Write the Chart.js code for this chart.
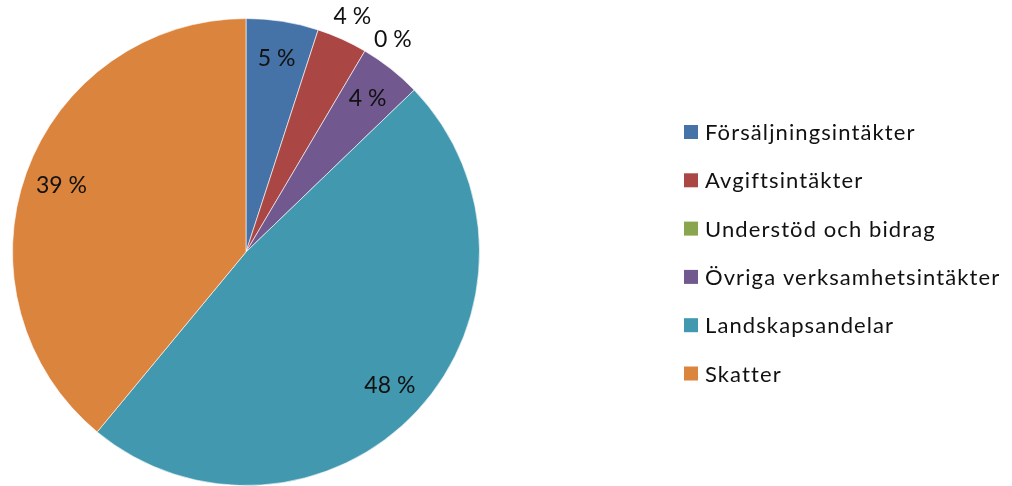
<!DOCTYPE html>
<html>
<head>
<meta charset="utf-8">
<script src="https://cdn.jsdelivr.net/npm/chart.js@4"></script>
<style>
html,body{margin:0;padding:0;background:#fff;}
#wrap{width:1012px;height:486px;position:relative;}
</style>
</head>
<body>
<div id="wrap"><canvas id="c" width="1012" height="486"></canvas></div>
<script>
const categories = ['Försäljningsintäkter','Avgiftsintäkter','Understöd och bidrag','Övriga verksamhetsintäkter','Landskapsandelar','Skatter'];
const shares = [5.0, 3.5, 0, 4.3, 48.2, 39.0];
const colors = ['#4572A7','#AA4643','#89A54E','#71588F','#4198AF','#DB843D'];
const labelOutside = [false, true, true, false, false, false];
const FONT = 'Lato, "Open Sans", sans-serif';

const labelPlugin = {
  id: 'sliceLabels',
  afterDatasetsDraw(chart) {
    const ctx = chart.ctx;
    const meta = chart.getDatasetMeta(0);
    ctx.save();
    ctx.font = '23px ' + FONT;
    ctx.fillStyle = '#111';
    ctx.textAlign = 'center';
    ctx.textBaseline = 'middle';
    meta.data.forEach((arc, i) => {
      const p = arc.getProps(['x','y','startAngle','endAngle','outerRadius'], true);
      let mid = (p.startAngle + p.endAngle) / 2;
      let r;
      if (labelOutside[i]) {
        r = p.outerRadius + 25;
        if (shares[i] === 0) mid += 0.07;
      } else {
        r = p.outerRadius * 0.84;
      }
      const x = p.x + Math.cos(mid) * r;
      const y = p.y + Math.sin(mid) * r;
      ctx.fillText(Math.round(shares[i]) + ' %', x, y);
    });
    ctx.restore();
  }
};

const legendPlugin = {
  id: 'sideLegend',
  afterDraw(chart) {
    const ctx = chart.ctx;
    ctx.save();
    ctx.font = '22px ' + FONT;
    if ('letterSpacing' in ctx) ctx.letterSpacing = '1.1px';
    ctx.textBaseline = 'middle';
    ctx.textAlign = 'left';
    const x0 = 684, y0 = 132, step = 48.3, box = 14;
    chart.data.labels.forEach((lab, i) => {
      const y = y0 + i * step;
      ctx.fillStyle = chart.data.datasets[0].backgroundColor[i];
      ctx.fillRect(x0, y - box / 2, box, box);
      ctx.fillStyle = '#111';
      ctx.fillText(lab, x0 + 21, y + 1);
    });
    ctx.restore();
  }
};

new Chart(document.getElementById('c'), {
  type: 'pie',
  data: {
    labels: categories,
    datasets: [{
      data: shares,
      backgroundColor: colors,
      borderColor: 'rgba(255,255,255,0.6)',
      borderWidth: 1
    }]
  },
  options: {
    responsive: false,
    animation: false,
    layout: { padding: { left: 12, right: 532, top: 18, bottom: 0 } },
    plugins: {
      legend: { display: false },
      tooltip: { enabled: false }
    }
  },
  plugins: [labelPlugin, legendPlugin]
});
</script>
</body>
</html>
